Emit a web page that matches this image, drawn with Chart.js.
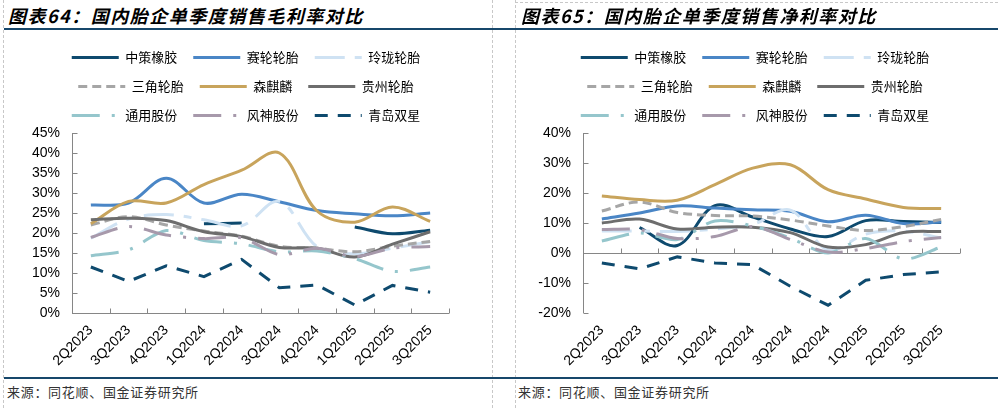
<!DOCTYPE html>
<html><head><meta charset="utf-8">
<script src="https://cdn.jsdelivr.net/npm/chart.js@4.4.1/dist/chart.umd.min.js"></script>
<style>
body{margin:0;width:998px;height:408px;position:relative;overflow:hidden;background:#fff;font-family:'Noto Sans CJK SC',sans-serif}
.vd{position:absolute;top:0;height:408px;width:0;border-left:1px dashed #c8c8c8}
.hd{position:absolute;height:0;border-top:1px dashed #c8c8c8}
.rule{position:absolute;left:4px;width:994px;height:2px;background:#17476b}
.title{position:absolute;top:4px;font-size:18px;font-weight:bold;font-style:italic;line-height:22px;letter-spacing:1.5px;color:#000;white-space:nowrap}
.src{position:absolute;top:384px;font-size:13px;line-height:16px;letter-spacing:0.7px;color:#333;white-space:nowrap}
canvas{position:absolute;top:35px}
</style></head>
<body>
<canvas id="c1" width="492" height="340" style="left:0"></canvas>
<canvas id="c2" width="486" height="340" style="left:512px"></canvas>
<div class="vd" style="left:3px"></div>
<div class="vd" style="left:492px"></div>
<div class="vd" style="left:515px"></div>
<div class="hd" style="left:515px;width:483px;top:2px"></div>
<div class="title" style="left:8px">图表64：国内胎企单季度销售毛利率对比</div>
<div class="title" style="left:521px">图表65：国内胎企单季度销售净利率对比</div>
<div class="rule" style="top:28px"></div>
<div class="rule" style="top:377px"></div>
<div class="src" style="left:7px">来源：同花顺、国金证券研究所</div>
<div class="src" style="left:518px">来源：同花顺、国金证券研究所</div>
<script>
// ---------- data ----------
const categories = ['2Q2023','3Q2023','4Q2023','1Q2024','2Q2024','3Q2024','4Q2024','1Q2025','2Q2025','3Q2025'];
const seriesNames = ['中策橡胶','赛轮轮胎','玲珑轮胎','三角轮胎','森麒麟','贵州轮胎','通用股份','风神股份','青岛双星'];

// gross margin (%), chart 64
const grossZhongce  = [null, null, null, 22.3, 22.5, null, null, 21.5, 19.8, 20.7];
const grossSailun   = [27.0, 27.5, 33.7, 27.5, 29.7, 27.8, 25.6, 24.8, 24.3, 25.0];
const grossLinglong = [18.7, 23.5, 24.6, 23.3, 21.8, 27.9, 16.6, 14.8, 16.2, 17.8];
const grossSanjiao  = [22.0, 24.1, 22.0, 20.5, 19.2, 16.7, 16.2, 15.3, 16.7, 17.9];
const grossSenqilin = [22.3, 27.9, 27.5, 32.1, 35.7, 40.0, 25.5, 22.7, 26.5, 22.9];
const grossGuizhou  = [23.3, 23.7, 23.1, 20.3, 19.1, 16.4, 16.2, 14.0, 17.2, 20.3];
const grossTongyong = [14.3, 15.8, 20.6, 18.1, 17.3, 15.3, 15.5, 13.6, 10.4, 11.5];
const grossFengshen = [18.9, 21.6, 19.5, 18.6, 18.8, 14.6, 16.2, 14.1, 16.2, 16.6];
const grossShuangxing = [11.5, 7.9, 11.8, 9.1, 13.4, 6.3, 7.0, 2.0, 6.9, 5.2];

// net margin (%), chart 65
const netZhongce  = [null, 8.5, 2.5, 15.8, 12.0, 8.0, 5.5, 10.8, 10.5, 10.2];
const netSailun   = [11.3, 13.3, 15.7, 15.0, 14.4, 13.9, 10.4, 12.6, 9.8, 10.3];
const netLinglong = [7.3, 7.3, 7.2, 8.0, 9.5, 14.3, 1.0, 6.3, 7.3, 5.0];
const netSanjiao  = [14.0, 17.0, 13.5, 12.5, 12.3, 11.0, 9.0, 7.5, 8.8, 11.2];
const netSenqilin = [19.0, 17.8, 17.6, 22.8, 28.3, 29.4, 21.1, 18.0, 15.2, 14.8];
const netGuizhou  = [10.0, 11.3, 8.0, 8.6, 8.6, 6.8, 2.0, 2.8, 6.8, 7.2];
const netTongyong = [4.0, 6.7, 4.5, 10.7, 9.0, 5.0, 0.0, 4.8, -2.0, 2.0];
const netFengshen = [7.8, 7.8, 4.8, 5.5, 8.8, 4.5, 0.3, 1.5, 3.8, 5.2];
const netShuangxing = [-3.3, -5.3, -1.3, -3.3, -3.9, -11.1, -17.4, -9.1, -7.2, -6.3];

const grossTicks = {min: 0, max: 45, step: 5};
const netTicks = {min: -20, max: 40, step: 10};

// ---------- styles ----------
const seriesColors = ['#0e4a6e','#4a86c6','#cfe2f3','#a6a6a6','#c8a45c','#6d6d6d','#95c6cc','#a799ab','#0e4a6e'];
const seriesDash = [[], [], [30,10,8,10], [9,5], [], [], [28,12,3,12], [28,12,3,12], [13,10]];
const seriesTension = [0.35,0.35,0.35,0.35,0.35,0.35,0.3,0.3,0];
const AXIS = '#868686';
const LATIN = "Arial, 'Liberation Sans', sans-serif";
const CJK = "'Noto Sans CJK SC', sans-serif";

const axisPlugin = {
  id: 'innerAxes',
  beforeDatasetsDraw(chart) {
    const {ctx, scales: {x, y}} = chart;
    ctx.save();
    ctx.strokeStyle = AXIS; ctx.lineWidth = 1;
    ctx.beginPath();
    const ax = Math.round(x.left) + 0.5;
    ctx.moveTo(ax, y.top); ctx.lineTo(ax, y.bottom);
    y.ticks.forEach(t => {
      const py = Math.round(y.getPixelForValue(t.value)) + 0.5;
      ctx.moveTo(ax, py); ctx.lineTo(ax + 5, py);
    });
    const y0 = Math.round(y.getPixelForValue(0)) + 0.5;
    ctx.moveTo(x.left, y0); ctx.lineTo(x.right, y0);
    const n = x.ticks.length, step = (x.right - x.left) / n;
    for (let i = 1; i <= n; i++) {
      const px = Math.round(x.left + i * step) + 0.5;
      ctx.moveTo(px, y0); ctx.lineTo(px, y0 - 5);
    }
    ctx.stroke();
    ctx.restore();
  }
};

// keeps the legend at 3 items per row and lets the plot start right under it
const legendFitPlugin = {
  id: 'legendFit',
  beforeLayout(chart) {
    const lg = chart.legend;
    if (lg && !lg.__patched) {
      const fit = lg.fit;
      lg.fit = function () {
        this.maxWidth = Math.min(this.maxWidth, 470);
        fit.call(this);
        this.height = 98;
      };
      lg.__patched = true;
    }
  }
};

function makeChart(id, seriesData, tk, yWidth, rightPad) {
  const datasets = seriesData.map((d, i) => ({
    label: seriesNames[i], data: d,
    borderColor: seriesColors[i], backgroundColor: seriesColors[i],
    borderWidth: 3, borderDash: seriesDash[i], tension: seriesTension[i],
    pointRadius: 0, pointHoverRadius: 0, pointStyle: 'line',
    fill: false, spanGaps: false, order: -i
  }));
  return new Chart(document.getElementById(id), {
    type: 'line',
    data: {labels: categories, datasets},
    plugins: [axisPlugin, legendFitPlugin],
    options: {
      responsive: false, animation: false, devicePixelRatio: 1,
      layout: {padding: 0},
      plugins: {
        tooltip: {enabled: false},
        legend: {
          position: 'top', align: 'center',
          labels: {
            usePointStyle: true, pointStyleWidth: 47, padding: 16,
            font: {family: CJK, size: 13}, color: '#000',
            generateLabels(chart) {
              return chart.data.datasets.map((ds, i) => ({
                text: ds.label, datasetIndex: i,
                strokeStyle: ds.borderColor, fillStyle: ds.borderColor,
                lineWidth: 3, lineDash: ds.borderDash, lineCap: 'butt',
                pointStyle: 'line', hidden: false, fontColor: '#000'
              }));
            }
          }
        }
      },
      scales: {
        x: {
          type: 'category', offset: true,
          grid: {display: false, drawTicks: false}, border: {display: false},
          ticks: {autoSkip: false, maxRotation: 45, minRotation: 45, padding: 9, color: '#000', font: {family: LATIN, size: 14}},
          afterFit(s) { s.height = 62; }
        },
        y: {
          min: tk.min, max: tk.max,
          grid: {display: false, drawTicks: false}, border: {display: false},
          ticks: {stepSize: tk.step, padding: 12, color: '#000', font: {family: LATIN, size: 14}, callback: v => v + '%'},
          afterFit(s) { s.width = yWidth; }
        },
        pad: {
          type: 'linear', position: 'right', display: true,
          grid: {display: false, drawTicks: false}, border: {display: false},
          ticks: {display: false},
          afterFit(s) { s.width = rightPad; }
        }
      }
    }
  });
}

makeChart('c1', [grossZhongce, grossSailun, grossLinglong, grossSanjiao, grossSenqilin, grossGuizhou, grossTongyong, grossFengshen, grossShuangxing], grossTicks, 72, 43);
makeChart('c2', [netZhongce, netSailun, netLinglong, netSanjiao, netSenqilin, netGuizhou, netTongyong, netFengshen, netShuangxing], netTicks, 71, 38);
</script>
</body></html>
